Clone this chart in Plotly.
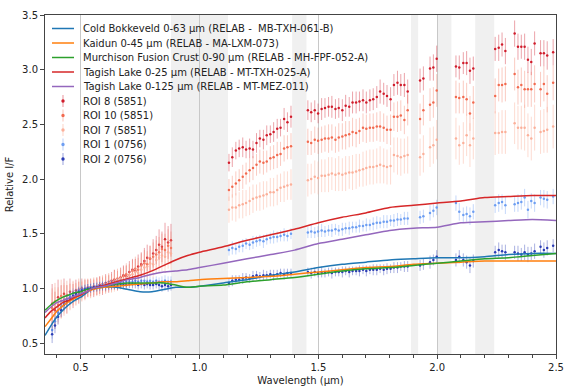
import plotly.graph_objects as go

# ---------------- data ----------------
# laboratory spectra (RELAB)
lab_wl = [0.35, 0.375, 0.40, 0.425, 0.45, 0.475, 0.50, 0.525, 0.55, 0.60, 0.65, 0.70, 0.75, 0.80, 0.85,
          0.90, 0.95, 1.00, 1.10, 1.20, 1.30, 1.40, 1.50, 1.60, 1.70, 1.80, 1.90, 2.00, 2.10, 2.20,
          2.30, 2.40, 2.50]
cold_bokkeveld = [0.57, 0.66, 0.74, 0.80, 0.85, 0.89, 0.92, 0.96, 1.00, 1.01, 1.01, 0.99, 0.97, 0.97, 0.99,
                  1.01, 1.01, 1.02, 1.05, 1.08, 1.12, 1.15, 1.19, 1.22, 1.24, 1.26, 1.27, 1.28, 1.28, 1.29,
                  1.31, 1.32, 1.32]
kaidun = [0.65, 0.72, 0.79, 0.84, 0.88, 0.91, 0.94, 0.97, 0.99, 1.01, 1.02, 1.03, 1.04, 1.05, 1.06,
          1.06, 1.07, 1.08, 1.09, 1.10, 1.11, 1.13, 1.15, 1.17, 1.19, 1.20, 1.22, 1.23, 1.24, 1.25,
          1.25, 1.25, 1.25]
murchison = [0.80, 0.85, 0.89, 0.92, 0.94, 0.96, 0.97, 0.99, 1.00, 1.02, 1.04, 1.05, 1.05, 1.05, 1.05,
             1.03, 1.01, 1.02, 1.03, 1.06, 1.08, 1.10, 1.13, 1.16, 1.18, 1.19, 1.21, 1.23, 1.25, 1.27,
             1.28, 1.30, 1.32]
tagish_25 = [0.73, 0.79, 0.83, 0.87, 0.89, 0.92, 0.94, 0.97, 1.00, 1.03, 1.06, 1.09, 1.12, 1.16, 1.21,
             1.26, 1.30, 1.33, 1.38, 1.44, 1.49, 1.54, 1.60, 1.65, 1.69, 1.74, 1.76, 1.78, 1.80, 1.83,
             1.84, 1.85, 1.85]
tagish_125 = [0.78, 0.83, 0.87, 0.89, 0.91, 0.93, 0.95, 0.97, 1.00, 1.02, 1.05, 1.08, 1.10, 1.13, 1.15,
              1.16, 1.17, 1.19, 1.23, 1.27, 1.31, 1.35, 1.41, 1.45, 1.49, 1.53, 1.55, 1.56, 1.60, 1.61,
              1.62, 1.63, 1.62]

# ROI spectra: visible wavelengths
vis_wl = [0.380, 0.392, 0.405, 0.418, 0.430, 0.442, 0.455, 0.468, 0.480, 0.492, 0.505, 0.518, 0.530, 0.542,
          0.555, 0.568, 0.580, 0.592, 0.605, 0.618, 0.630, 0.642, 0.655, 0.668, 0.680, 0.692, 0.705, 0.718,
          0.730, 0.742, 0.755, 0.768, 0.780, 0.792, 0.805, 0.818, 0.830, 0.842, 0.855, 0.868, 0.880]
# ROI spectra: near-infrared wavelengths
nir_wl = [1.124, 1.138, 1.153, 1.167, 1.182, 1.196, 1.211, 1.225, 1.240, 1.254, 1.269, 1.283, 1.298, 1.312,
          1.327, 1.341, 1.356, 1.370, 1.385,
          1.456, 1.470, 1.485, 1.499, 1.514, 1.528, 1.543, 1.557, 1.572, 1.586, 1.601, 1.615, 1.630, 1.644,
          1.659, 1.673, 1.688, 1.702, 1.717, 1.731, 1.746, 1.760, 1.775, 1.789, 1.804, 1.818, 1.833, 1.847,
          1.862, 1.876,
          1.928, 1.942, 1.970, 1.984, 1.998,
          2.079, 2.093, 2.110, 2.124, 2.138, 2.152,
          2.244, 2.259, 2.273, 2.287, 2.326, 2.340, 2.354, 2.368, 2.382, 2.396, 2.410, 2.435, 2.449, 2.463, 2.488]

roi8_vis = [0.86, 0.80, 0.92, 0.88, 0.95, 0.90, 0.97, 0.93, 0.98, 0.96, 1.00, 0.99, 1.00, 1.01, 1.00, 1.02,
            1.03, 1.02, 1.05, 1.04, 1.07, 1.08, 1.07, 1.10, 1.12, 1.11, 1.15, 1.17, 1.16, 1.20, 1.22, 1.25,
            1.28, 1.27, 1.32, 1.35, 1.40, 1.38, 1.45, 1.42, 1.44]
roi10_vis = [0.82, 0.88, 0.85, 0.93, 0.89, 0.94, 0.92, 0.96, 0.95, 0.99, 0.97, 1.00, 1.01, 0.99, 1.02, 1.01,
             1.03, 1.04, 1.03, 1.06, 1.05, 1.08, 1.09, 1.08, 1.11, 1.13, 1.12, 1.16, 1.18, 1.17, 1.21, 1.23,
             1.22, 1.27, 1.29, 1.31, 1.33, 1.36, 1.35, 1.39, 1.37]
roi7_vis = [0.78, 0.84, 0.83, 0.87, 0.91, 0.90, 0.93, 0.95, 0.94, 0.97, 0.98, 0.98, 1.00, 1.00, 1.01, 1.02,
            1.01, 1.03, 1.04, 1.05, 1.04, 1.06, 1.07, 1.09, 1.08, 1.10, 1.12, 1.13, 1.15, 1.14, 1.17, 1.19,
            1.20, 1.23, 1.22, 1.26, 1.28, 1.30, 1.29, 1.33, 1.32]
roi1_vis = [0.62, 0.70, 0.78, 0.83, 0.87, 0.90, 0.93, 0.95, 0.96, 0.98, 0.99, 1.00, 1.00, 1.01, 1.01, 1.02,
            1.02, 1.03, 1.03, 1.03, 1.04, 1.04, 1.05, 1.05, 1.05, 1.06, 1.06, 1.06, 1.07, 1.06, 1.07, 1.07,
            1.06, 1.07, 1.06, 1.07, 1.06, 1.06, 1.07, 1.06, 1.06]
roi2_vis = [0.58, 0.66, 0.74, 0.80, 0.85, 0.88, 0.91, 0.93, 0.95, 0.97, 0.98, 0.99, 1.00, 1.00, 1.01, 1.01,
            1.02, 1.02, 1.02, 1.03, 1.03, 1.03, 1.03, 1.04, 1.04, 1.03, 1.04, 1.04, 1.04, 1.03, 1.04, 1.03,
            1.04, 1.03, 1.03, 1.04, 1.03, 1.02, 1.03, 1.02, 1.03]

red_vis_err = [0.18, 0.17, 0.16, 0.15, 0.14, 0.13, 0.12, 0.11, 0.10, 0.10, 0.09, 0.09, 0.08, 0.08, 0.08, 0.08,
               0.08, 0.08, 0.08, 0.08, 0.08, 0.09, 0.09, 0.09, 0.09, 0.10, 0.10, 0.10, 0.11, 0.11, 0.11, 0.12,
               0.12, 0.12, 0.13, 0.13, 0.14, 0.14, 0.15, 0.15, 0.15]
blue_vis_err = [0.08, 0.07, 0.07, 0.06, 0.06, 0.05, 0.05, 0.05, 0.04, 0.04, 0.04, 0.04, 0.04, 0.04, 0.04, 0.04,
                0.04, 0.04, 0.04, 0.04, 0.04, 0.04, 0.04, 0.04, 0.04, 0.04, 0.04, 0.04, 0.04, 0.04, 0.04, 0.04,
                0.04, 0.04, 0.04, 0.04, 0.04, 0.05, 0.05, 0.05, 0.05]

roi8_nir = [2.15, 2.20, 2.26, 2.28, 2.29, 2.27, 2.28, 2.27, 2.33, 2.37, 2.36, 2.40, 2.41, 2.43, 2.46, 2.47,
            2.55, 2.52, 2.57,
            2.63, 2.61, 2.63, 2.60, 2.64, 2.65, 2.66, 2.66, 2.64, 2.65, 2.63, 2.67, 2.66, 2.70, 2.70, 2.71,
            2.72, 2.70, 2.72, 2.73, 2.75, 2.80, 2.78, 2.76, 2.73, 2.86, 2.88, 2.86, 2.86, 2.80,
            2.90, 2.92, 3.01, 3.02, 3.10,
            3.03, 3.02, 3.06, 3.06, 2.99, 3.01,
            3.19, 3.20, 3.23, 3.17, 3.33, 3.21, 3.21, 3.21, 3.09, 3.07, 3.24, 3.15, 3.15, 3.13, 3.16]
roi8_nir_err = [0.08, 0.09, 0.08, 0.08, 0.09, 0.08, 0.09, 0.08, 0.09, 0.08, 0.09, 0.09, 0.08, 0.09, 0.09, 0.08,
                0.10, 0.09, 0.10,
                0.09, 0.09, 0.09, 0.09, 0.10, 0.09, 0.09, 0.10, 0.09, 0.09, 0.10, 0.10, 0.09, 0.10, 0.10, 0.09,
                0.10, 0.10, 0.10, 0.10, 0.10, 0.11, 0.10, 0.10, 0.11, 0.10, 0.11, 0.10, 0.11, 0.11,
                0.11, 0.11, 0.11, 0.12, 0.12,
                0.10, 0.11, 0.10, 0.11, 0.12, 0.11,
                0.11, 0.12, 0.11, 0.12, 0.12, 0.12, 0.11, 0.12, 0.12, 0.12, 0.11, 0.12, 0.12, 0.13, 0.12]
roi10_nir = [1.90, 1.93, 1.96, 1.99, 2.02, 2.05, 2.08, 2.10, 2.13, 2.16, 2.15, 2.16, 2.19, 2.20, 2.22, 2.23,
             2.28, 2.29, 2.30,
             2.34, 2.33, 2.36, 2.35, 2.36, 2.37, 2.37, 2.38, 2.36, 2.38, 2.39, 2.40, 2.41, 2.43, 2.42, 2.44,
             2.47, 2.46, 2.47, 2.47, 2.48, 2.48, 2.47, 2.45, 2.45, 2.57, 2.57, 2.58, 2.54, 2.63,
             2.55, 2.63, 2.68, 2.70, 2.81,
             2.75, 2.74, 2.75, 2.73, 2.60, 2.70,
             2.76, 2.86, 2.86, 2.87, 2.96, 2.84, 2.86, 2.82, 2.82, 2.82, 2.87, 2.82, 2.87, 2.78, 2.88]
roi10_nir_err = [0.10, 0.10, 0.11, 0.10, 0.11, 0.10, 0.11, 0.11, 0.10, 0.11, 0.11, 0.10, 0.11, 0.11, 0.12, 0.11,
                 0.12, 0.11, 0.12,
                 0.12, 0.11, 0.12, 0.12, 0.12, 0.12, 0.13, 0.12, 0.12, 0.13, 0.12, 0.13, 0.12, 0.13, 0.13, 0.12,
                 0.13, 0.13, 0.13, 0.13, 0.13, 0.14, 0.13, 0.13, 0.14, 0.13, 0.14, 0.14, 0.13, 0.14,
                 0.14, 0.14, 0.15, 0.14, 0.15,
                 0.15, 0.14, 0.15, 0.15, 0.16, 0.15,
                 0.16, 0.15, 0.16, 0.16, 0.15, 0.16, 0.16, 0.17, 0.16, 0.16, 0.17, 0.16, 0.16, 0.17, 0.16]
roi7_nir = [1.72, 1.74, 1.74, 1.76, 1.77, 1.78, 1.80, 1.82, 1.83, 1.84, 1.85, 1.86, 1.88, 1.88, 1.90, 1.92,
            1.93, 1.94, 1.95,
            1.99, 2.00, 2.02, 2.01, 2.03, 2.03, 2.04, 2.05, 2.04, 2.05, 2.04, 2.05, 2.06, 2.06, 2.07, 2.08,
            2.09, 2.10, 2.11, 2.11, 2.12, 2.13, 2.12, 2.11, 2.12, 2.22, 2.21, 2.20, 2.21, 2.22,
            2.20, 2.23, 2.29, 2.31, 2.36,
            2.37, 2.31, 2.33, 2.40, 2.31, 2.37,
            2.42, 2.42, 2.43, 2.43, 2.51, 2.47, 2.47, 2.47, 2.40, 2.37, 2.47, 2.43, 2.44, 2.45, 2.48]
roi7_nir_err = [0.12, 0.12, 0.13, 0.12, 0.13, 0.12, 0.13, 0.13, 0.12, 0.13, 0.13, 0.12, 0.13, 0.13, 0.14, 0.13,
                0.14, 0.13, 0.14,
                0.15, 0.14, 0.15, 0.15, 0.15, 0.15, 0.16, 0.15, 0.15, 0.16, 0.15, 0.16, 0.15, 0.16, 0.16, 0.15,
                0.16, 0.16, 0.16, 0.16, 0.16, 0.17, 0.16, 0.16, 0.17, 0.16, 0.17, 0.17, 0.16, 0.17,
                0.17, 0.17, 0.18, 0.17, 0.18,
                0.19, 0.18, 0.19, 0.19, 0.20, 0.19,
                0.20, 0.19, 0.20, 0.20, 0.19, 0.20, 0.20, 0.21, 0.20, 0.20, 0.21, 0.20, 0.20, 0.21, 0.20]
roi1_nir = [1.35, 1.37, 1.36, 1.38, 1.39, 1.41, 1.40, 1.42, 1.43, 1.44, 1.43, 1.45, 1.46, 1.47, 1.47, 1.48,
            1.49, 1.48, 1.50,
            1.51, 1.52, 1.51, 1.52, 1.53, 1.52, 1.53, 1.53, 1.54, 1.53, 1.54, 1.55, 1.55, 1.56, 1.56, 1.57,
            1.57, 1.58, 1.58, 1.59, 1.60, 1.60, 1.61, 1.61, 1.62, 1.62, 1.63, 1.63, 1.64, 1.64,
            1.65, 1.66, 1.69, 1.71, 1.74,
            1.78, 1.70, 1.67, 1.68, 1.66, 1.70,
            1.76, 1.78, 1.79, 1.76, 1.77, 1.78, 1.79, 1.83, 1.72, 1.80, 1.78, 1.83, 1.82, 1.81, 1.84]
roi1_nir_err = [0.05, 0.06, 0.05, 0.05, 0.06, 0.05, 0.05, 0.06, 0.05, 0.05, 0.06, 0.05, 0.05, 0.06, 0.05, 0.05,
                0.06, 0.05, 0.05,
                0.05, 0.06, 0.05, 0.05, 0.06, 0.05, 0.05, 0.06, 0.05, 0.05, 0.06, 0.05, 0.06, 0.05, 0.05, 0.06,
                0.05, 0.06, 0.05, 0.06, 0.06, 0.05, 0.06, 0.06, 0.05, 0.06, 0.06, 0.05, 0.06, 0.06,
                0.06, 0.06, 0.07, 0.06, 0.07,
                0.07, 0.08, 0.07, 0.07, 0.08, 0.07,
                0.07, 0.08, 0.07, 0.08, 0.07, 0.08, 0.07, 0.08, 0.08, 0.07, 0.08, 0.07, 0.08, 0.08, 0.07]
roi2_nir = [1.05, 1.07, 1.08, 1.08, 1.09, 1.10, 1.09, 1.11, 1.12, 1.11, 1.12, 1.12, 1.13, 1.12, 1.13, 1.14,
            1.13, 1.14, 1.14,
            1.15, 1.14, 1.15, 1.14, 1.15, 1.14, 1.15, 1.14, 1.15, 1.15, 1.15, 1.16, 1.15, 1.16, 1.16, 1.16,
            1.17, 1.16, 1.17, 1.17, 1.17, 1.18, 1.17, 1.18, 1.18, 1.19, 1.19, 1.20, 1.20, 1.20,
            1.21, 1.22, 1.24, 1.26, 1.29,
            1.26, 1.29, 1.26, 1.24, 1.21, 1.25,
            1.33, 1.35, 1.34, 1.33, 1.33, 1.32, 1.31, 1.33, 1.31, 1.32, 1.34, 1.38, 1.35, 1.37, 1.39]
roi2_nir_err = [0.04, 0.05, 0.04, 0.04, 0.05, 0.04, 0.04, 0.05, 0.04, 0.04, 0.05, 0.04, 0.04, 0.05, 0.04, 0.04,
                0.05, 0.04, 0.04,
                0.04, 0.05, 0.04, 0.04, 0.05, 0.04, 0.04, 0.05, 0.04, 0.04, 0.05, 0.04, 0.05, 0.04, 0.04, 0.05,
                0.04, 0.05, 0.04, 0.05, 0.05, 0.04, 0.05, 0.05, 0.04, 0.05, 0.05, 0.04, 0.05, 0.05,
                0.05, 0.05, 0.06, 0.05, 0.06,
                0.06, 0.06, 0.06, 0.06, 0.07, 0.06,
                0.06, 0.07, 0.06, 0.07, 0.06, 0.07, 0.06, 0.07, 0.07, 0.06, 0.07, 0.06, 0.07, 0.07, 0.06]

# masked (telluric / detector) bands
bands = [(0.88, 1.12), (1.39, 1.45), (1.89, 1.92), (2.00, 2.06), (2.16, 2.24)]

x_ticks = [0.5, 1.0, 1.5, 2.0, 2.5]
y_ticks = [0.5, 1.0, 1.5, 2.0, 2.5, 3.0, 3.5]

# sanity checks
for arr in [cold_bokkeveld, kaidun, murchison, tagish_25, tagish_125]:
    assert len(arr) == len(lab_wl), len(arr)
for arr in [roi8_vis, roi10_vis, roi7_vis, roi1_vis, roi2_vis, red_vis_err, blue_vis_err]:
    assert len(arr) == len(vis_wl), len(arr)
for arr in [roi8_nir, roi10_nir, roi7_nir, roi1_nir, roi2_nir,
            roi8_nir_err, roi10_nir_err, roi7_nir_err, roi1_nir_err, roi2_nir_err]:
    assert len(arr) == len(nir_wl), len(arr)

# ---------------- figure ----------------
FONT = "DejaVu Sans"
W, H = 571, 390
ML, MR, MT, MB = 45, 15, 15, 36
PW, PH = W - ML - MR, H - MT - MB

fig = go.Figure()

rois = [
    ("ROI 8 (5851)", roi8_vis, red_vis_err, roi8_nir, roi8_nir_err, "#d01c2b", "rgba(208,28,43,0.4)"),
    ("ROI 10 (5851)", roi10_vis, red_vis_err, roi10_nir, roi10_nir_err, "#f26a4f", "rgba(242,106,79,0.35)"),
    ("ROI 7 (5851)", roi7_vis, red_vis_err, roi7_nir, roi7_nir_err, "#fbb09a", "rgba(251,176,154,0.45)"),
    ("ROI 1 (0756)", roi1_vis, blue_vis_err, roi1_nir, roi1_nir_err, "#6d9ef2", "rgba(109,158,242,0.4)"),
    ("ROI 2 (0756)", roi2_vis, blue_vis_err, roi2_nir, roi2_nir_err, "#2b3cb5", "rgba(43,60,181,0.4)"),
]
for name, yv, ev, yn, en, col, ecol in rois:
    fig.add_trace(go.Scatter(
        x=vis_wl + nir_wl, y=yv + yn, mode="markers", name=name,
        marker=dict(color=col, size=2.5),
        error_y=dict(type="data", array=ev + en, color=ecol, thickness=1, width=0),
        showlegend=False,
    ))

labs = [
    ("Cold Bokkeveld 0-63 μm (RELAB -  MB-TXH-061-B)", cold_bokkeveld, "#1f77b4"),
    ("Kaidun 0-45 μm (RELAB - MA-LXM-073)", kaidun, "#ff7f0e"),
    ("Murchison Fusion Crust 0-90 μm (RELAB - MH-FPF-052-A)", murchison, "#2ca02c"),
    ("Tagish Lake 0-25 μm (RELAB - MT-TXH-025-A)", tagish_25, "#d62728"),
    ("Tagish Lake 0-125 μm (RELAB - MT-MEZ-011)", tagish_125, "#9467bd"),
]
for name, yv, col in labs:
    fig.add_trace(go.Scatter(
        x=lab_wl, y=yv, mode="lines", name=name,
        line=dict(color=col, width=1.5, shape="spline", smoothing=0.6),
        showlegend=False,
    ))

for x0, x1 in bands:
    fig.add_shape(type="rect", xref="x", yref="paper", x0=x0, x1=x1, y0=0, y1=1,
                  fillcolor="#f0f0f0", line_width=0, layer="below")


# ---- legend drawn in the matplotlib style (compact rows) ----
def px_to_paper_x(px):
    return (px - ML) / PW


def px_to_paper_y(py):
    return (H - MB - py) / PH


row0, row_step = 28.5, 14.5
legend_items = [(n, "line", c, None) for n, _, c in labs] + \
               [(r[0], "marker", r[5], r[6]) for r in rois]
for i, (name, kind, col, ecol) in enumerate(legend_items):
    yc = row0 + i * row_step
    if kind == "line":
        fig.add_shape(type="line", xref="paper", yref="paper",
                      x0=px_to_paper_x(52), x1=px_to_paper_x(74),
                      y0=px_to_paper_y(yc), y1=px_to_paper_y(yc),
                      line=dict(color=col, width=1.5))
    else:
        fig.add_shape(type="line", xref="paper", yref="paper",
                      x0=px_to_paper_x(63), x1=px_to_paper_x(63),
                      y0=px_to_paper_y(yc - 6), y1=px_to_paper_y(yc + 6),
                      line=dict(color=ecol, width=1.2))
        fig.add_shape(type="circle", xref="paper", yref="paper",
                      x0=px_to_paper_x(61.3), x1=px_to_paper_x(64.7),
                      y0=px_to_paper_y(yc - 1.7), y1=px_to_paper_y(yc + 1.7),
                      fillcolor=col, line=dict(color=col, width=0))
    fig.add_annotation(x=px_to_paper_x(81), y=px_to_paper_y(yc), xref="paper", yref="paper",
                       text=name, showarrow=False, xanchor="left", yanchor="middle",
                       font=dict(family=FONT, size=10, color="#222222"))

axis_common = dict(
    showline=True, linecolor="#444444", linewidth=1, mirror=True,
    ticks="outside", ticklen=4, tickcolor="#444444",
    tickfont=dict(family=FONT, size=10, color="#222222"),
    zeroline=False, automargin=False,
)
fig.update_xaxes(
    range=[0.35, 2.5], tickvals=x_ticks, ticktext=[f"{v:.1f}" for v in x_ticks],
    showgrid=True, gridcolor="#c8c8c8", gridwidth=1,
    minor=dict(dtick=0.1, ticks="outside", ticklen=2.5, tickcolor="#444444", showgrid=False),
    title=dict(text="Wavelength (μm)", font=dict(family=FONT, size=10, color="#222222"), standoff=4),
    **axis_common,
)
fig.update_yaxes(
    range=[0.4, 3.5], tickvals=y_ticks, ticktext=[f"{v:.1f}" for v in y_ticks],
    showgrid=False,
    title=dict(text="Relative I/F", font=dict(family=FONT, size=10, color="#222222"), standoff=6),
    **axis_common,
)

fig.update_layout(
    width=W, height=H,
    margin=dict(l=ML, r=MR, t=MT, b=MB),
    paper_bgcolor="white", plot_bgcolor="white",
    font=dict(family=FONT, size=10, color="#222222"),
    showlegend=False,
)

# remove the browser's default page margin so the figure sits at the window origin
fig.write_html("out.html",
               config={"displayModeBar": False},
               post_script="document.body.style.margin='0';document.body.style.overflow='hidden';")
